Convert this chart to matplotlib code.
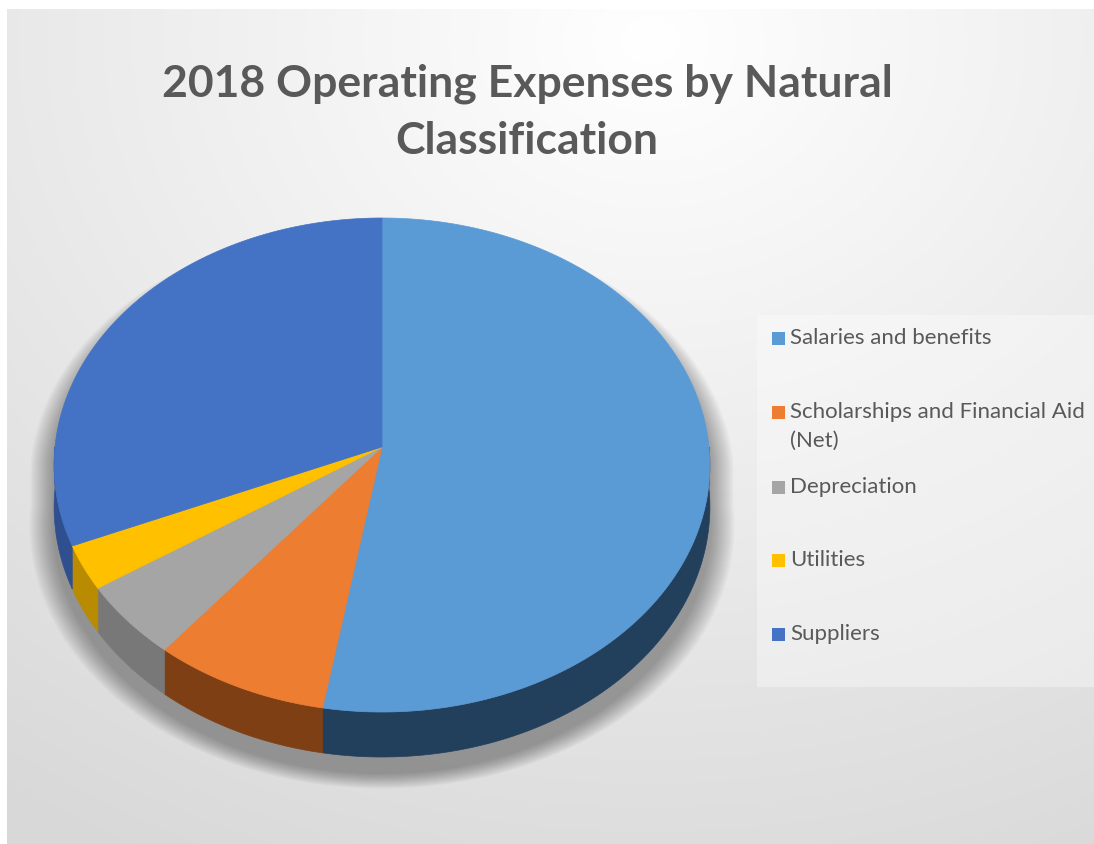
import numpy as np
import matplotlib
matplotlib.use('Agg')
import matplotlib.pyplot as plt
from matplotlib.patches import Polygon, Rectangle

# ---------------- data ----------------
categories = ['Salaries and benefits', 'Scholarships and Financial Aid\n(Net)',
              'Depreciation', 'Utilities', 'Suppliers']
values = [52.7, 8.1, 4.9, 2.9, 31.4]
title_lines = ['2018 Operating Expenses by Natural', 'Classification']

top_colors = ['#5B9BD5', '#ED7D31', '#A5A5A5', '#FFC000', '#4472C4']
side_colors = ['#223F5C', '#7E3F14', '#787878', '#B98B00', '#2F4F8E']

W, H = 1094, 844
fig = plt.figure(figsize=(W / 100, H / 100), dpi=100)

# ---------------- background gradient ----------------
yy, xx = np.mgrid[0:H, 0:W]
r = np.hypot(xx - 650, (yy - 40) * 1.2) / 1100
g = 1 - 0.15 * np.clip(r, 0, 1)
img = np.dstack([g, g, g])
img[:9, :] = 1
img[:, :7] = 1
fig.figimage(img, xo=0, yo=0, origin='upper', zorder=0)

# ---------------- pie ----------------
ax = fig.add_axes([0, 0, 1, 1])
ax.set_zorder(2)
ax.patch.set_alpha(0)
wedges, _ = ax.pie(values, startangle=90, counterclock=False)
angles = [(w.theta1, w.theta2) for w in wedges]
for w in wedges:
    w.remove()
ax.set_aspect('auto')
ax.set_xlim(0, W)
ax.set_ylim(H, 0)
ax.axis('off')

cx, cy, A, B, k, D = 382, 447, 327, 245.7, 0.0729, 41.7


def proj(t_deg, depth=0.0):
    t = np.radians(t_deg)
    u, v = np.cos(t), np.sin(t)
    s = 1 + k * v
    return cx + A * u / s, cy - B * v / s + depth / s


# shadow
tb = np.linspace(0, 180, 200)
tf = np.linspace(180, 360, 200)
xb, yb = proj(tb)
xf, yf = proj(tf, D)
sil_x = np.concatenate([xb, xf])
sil_y = np.concatenate([yb, yf])
n = 16
for i in range(n):
    f = 1 + 0.075 * (i + 1) / n
    sx = cx + (sil_x - cx) * f
    sy = cy + 16 + (sil_y - cy) * (1 + 0.05 * (i + 1) / n)
    ax.add_patch(Polygon(np.column_stack([sx, sy]), closed=True,
                         facecolor='black', edgecolor='none', alpha=0.024, zorder=1))

# sides (front half only)
for (t1, t2), col in zip(angles, side_colors):
    for off in (-360, 0, 360):
        lo = max(t1, -180 + off)
        hi = min(t2, 0 + off)
        if hi > lo:
            ts = np.linspace(lo, hi, 120)
            x1, y1 = proj(ts)
            x2, y2 = proj(ts[::-1], D)
            pts = np.column_stack([np.concatenate([x1, x2]), np.concatenate([y1, y2])])
            ax.add_patch(Polygon(pts, closed=True, facecolor=col, edgecolor=col,
                                 linewidth=0.5, zorder=2))

# top faces
for (t1, t2), col in zip(angles, top_colors):
    ts = np.linspace(t1, t2, 300)
    x1, y1 = proj(ts)
    pts = np.column_stack([np.concatenate([[cx], x1]), np.concatenate([[cy], y1])])
    ax.add_patch(Polygon(pts, closed=True, facecolor=col, edgecolor=col,
                         linewidth=0.5, zorder=3))

# ---------------- title ----------------
for line, y in zip(title_lines, [84, 141]):
    ax.text(527, y, line, ha='center', va='center', fontsize=32,
            fontweight='bold', color='#595959', family='Lato', zorder=5)

# ---------------- legend ----------------
ax.add_patch(Rectangle((757, 315), W - 757, 372, facecolor='white', alpha=0.35,
                       edgecolor='none', zorder=4))
legend_y = [338, 412, 487, 560, 634]
for lab, col, y0 in zip(categories, top_colors, legend_y):
    ax.add_patch(Rectangle((772, y0 - 6.5), 13, 13, facecolor=col, edgecolor='none', zorder=5))
    for j, line in enumerate(lab.split('\n')):
        ax.text(790, y0 + 29 * j, line, ha='left', va='center', fontsize=16,
                color='#595959', family='Lato', zorder=5)

fig.savefig('out.png', dpi=100)
